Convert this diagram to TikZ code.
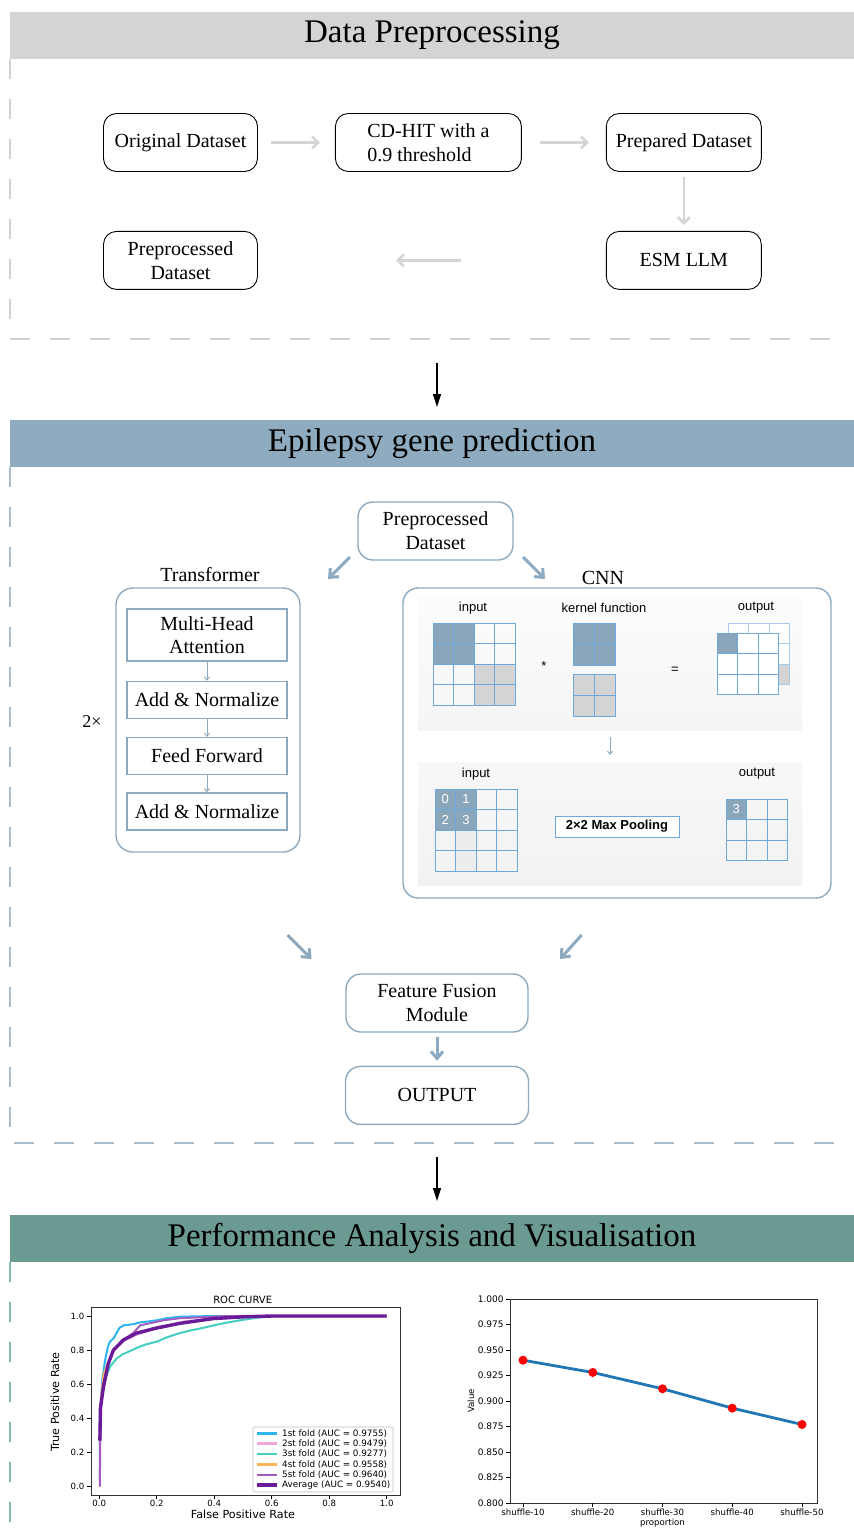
\documentclass[tikz,border=0pt]{standalone}
\usepackage{fontspec}
\setmainfont{Liberation Serif}
\setsansfont{Liberation Sans}
\newfontfamily\plotfont{DejaVu Sans}
\usetikzlibrary{shapes,arrows,arrows.meta,positioning}

\definecolor{headgray}{HTML}{D4D4D4}
\definecolor{headblue}{HTML}{8EABBF}
\definecolor{headteal}{HTML}{6A9A91}
\definecolor{dashgray}{HTML}{D2D2D2}
\definecolor{dashblue}{HTML}{A8BFD0}
\definecolor{dashteal}{HTML}{86BAB1}
\definecolor{lightarrow}{HTML}{D5D5D5}
\definecolor{boxblue}{HTML}{8DAAC0}
\definecolor{gridblue}{HTML}{6FA8DC}
\definecolor{celldark}{HTML}{8AA6BB}
\definecolor{cellgray}{HTML}{D4D4D4}
\definecolor{fold1}{HTML}{2EB5F0}
\definecolor{fold2}{HTML}{F0A8D8}
\definecolor{fold3}{HTML}{45CFC0}
\definecolor{fold4}{HTML}{FFB35A}
\definecolor{fold5}{HTML}{A35DBF}
\definecolor{foldavg}{HTML}{6A1B9A}
\definecolor{mplblue}{HTML}{1F77B4}

\begin{document}
\begin{tikzpicture}[x=1pt,y=-1pt]
   \tikzset{main node/.style={rectangle, draw, rounded corners=13pt, line width=0.9pt,
   		text centered, align=center, minimum height=58pt, font=\fontsize{20}{24}\selectfont}, }
   \tikzset{blue node/.style={main node, draw=boxblue, line width=1.4pt,
   		rounded corners=15pt}, }
   \tikzset{layer node/.style={rectangle, draw=boxblue, line width=1.3pt,
   		minimum width=160pt, text centered, align=center, font=\fontsize{20}{23}\selectfont}, }
   \tikzset{band node/.style={rectangle, minimum width=844pt, minimum height=47pt,
   		inner sep=0pt, font=\fontsize{33}{36}\selectfont}, }
   \tikzset{label node/.style={font=\fontsize{20}{23}\selectfont}, }
   \tikzset{cnn text/.style={font=\sffamily\fontsize{13}{15}\selectfont, inner sep=1pt}, }
   \tikzset{digit node/.style={font=\sffamily\fontsize{13}{15}\selectfont, text=white, inner sep=0pt}, }
   \tikzset{plot text/.style={font=\plotfont\fontsize{8.6}{10}\selectfont, inner sep=1pt}, }
   \tikzset{cell/.style={draw=gridblue, line width=1pt}, }
   \tikzset{linea gris/.style={-{Straight Barb[length=6pt,width=12pt]}, line width=2.6pt, draw=lightarrow},}
   \tikzset{linea azul/.style={-{Straight Barb[length=7pt,width=12pt]}, line width=3pt, draw=boxblue},}
   \tikzset{linea fina/.style={-{Straight Barb[length=3pt,width=5pt]}, line width=1pt, draw=boxblue},}
   \tikzset{linea negra/.style={-{Triangle[length=13pt,width=8pt]}, line width=1.2pt},}
   \tikzset{marco/.style={dash pattern=on 20pt off 20pt, line width=1.4pt},}

\useasboundingbox (0,0) rectangle (854,1540);
\fill[white] (0,0) rectangle (854,1540);

% Data Preprocessing
\node[band node, fill=headgray] (h1) at (432,35.5) {Data Preprocessing};
\draw[marco, dashgray] (10,59) -- (10,339) -- (840,339);
\node[main node, minimum width=154pt] (1) at (180.5,142.5) {Original Dataset};
\node[main node, minimum width=186pt, align=left] (2) [right=77pt of 1] {CD-HIT with a\\0.9 threshold};
\node[main node, minimum width=155pt] (3) [right=84pt of 2] {Prepared Dataset};
\node[main node, minimum width=155pt] (4) [below=59pt of 3] {ESM LLM};
\node[main node, minimum width=154pt] (5) [below=59pt of 1] {Preprocessed\\Dataset};
\path[linea gris] (1) edge[shorten <=13pt, shorten >=15pt] (2);
\path[linea gris] (2) edge[shorten <=18pt, shorten >=17pt] (3);
\path[linea gris] (3) edge[shorten <=5pt, shorten >=6pt] (4);
\path[linea gris] (4) edge[shorten <=145pt, shorten >=138pt] (5);

\coordinate (a1) at (437,363);
\coordinate (a2) at (437,407);
\draw[linea negra] (a1) -- (a2);

% Epilepsy gene prediction
\node[band node, fill=headblue] (h2) at (432,443.5) {Epilepsy gene prediction};
\draw[marco, dashblue] (10,467) -- (10,1143) -- (854,1143);
\node[blue node, minimum width=155pt] (6) at (435.5,531) {Preprocessed\\Dataset};
\coordinate (p1) at (350,557);
\coordinate (p2) at (328,579);
\coordinate (p3) at (523,557);
\coordinate (p4) at (545,579);
\draw[linea azul] (p1) -- (p2);
\draw[linea azul] (p3) -- (p4);

% transformer encoder
\node[label node] (7) at (210,575) {Transformer};
\node[blue node, minimum width=184pt, minimum height=264pt, rounded corners=17pt] (9) at (208,720) {};
\node[layer node, minimum height=52pt] (10) at (207,635) {Multi-Head\\Attention};
\node[layer node, minimum height=37pt] (11) [below=19pt of 10] {Add \& Normalize};
\node[layer node, minimum height=37pt] (12) [below=18pt of 11] {Feed Forward};
\node[layer node, minimum height=37pt] (13) [below=17pt of 12] {Add \& Normalize};
\foreach \x/\y in {10/11,11/12,12/13}
\path[linea fina] (\x) edge node {} (\y);
\node[font=\fontsize{18}{20}\selectfont] (14) at (92,722) {2×};

% convolution and pooling
\node[label node] (8) at (603,578) {CNN};
\node[blue node, minimum width=428pt, minimum height=310pt] (15) at (617,743) {};
\shade[top color=black!1, middle color=black!7, bottom color=black!4] (418,595) rectangle (802,730);
\shade[top color=black!3, middle color=black!8, bottom color=black!5] (418,762) rectangle (802,885);
\node[cnn text] (17) at (473,608) {input};
\node[cnn text] (18) at (604,608) {kernel function};
\node[cnn text] (19) at (756,608) {output};
\node[cnn text] (20) at (544,666) {*};
\node[cnn text] (21) at (675,670) {=};
\fill[celldark] (433,623) rectangle ++(41.2,41.2);
\fill[cellgray] (474.2,664.2) rectangle ++(41.2,41.2);
\foreach \i in {0,...,3} \foreach \j in {0,...,3}
  \draw[cell] (433+20.6*\i,623+20.6*\j) rectangle ++(20.6,20.6);
\foreach \i in {0,1} \foreach \j in {0,1} {
  \draw[cell, fill=celldark] (573+21*\i,623+21*\j) rectangle ++(21,21);
  \draw[cell, fill=cellgray] (573+21*\i,674+21*\j) rectangle ++(21,21);
}
\foreach \i in {0,...,2} \foreach \j in {0,...,2}
  \draw[cell, draw=gridblue!60, fill=white] (728+20.6*\i,623+20.6*\j) rectangle ++(20.6,20.6);
\draw[cell, draw=gridblue!60, fill=cellgray] (769.2,664.2) rectangle ++(20.6,20.6);
\foreach \i in {0,...,2} \foreach \j in {0,...,2}
  \draw[cell, fill=white] (717+20.6*\i,633+20.6*\j) rectangle ++(20.6,20.6);
\draw[cell, fill=celldark] (717,633) rectangle ++(20.6,20.6);
\coordinate (k1) at (610,737);
\coordinate (k2) at (610,755);
\draw[linea fina] (k1) -- (k2);
\node[cnn text] (22) at (476,774) {input};
\node[cnn text] (23) at (757,774) {output};
\fill[black!7] (455.6,830.2) rectangle ++(20.6,41.2);
\fill[celldark] (435,789) rectangle ++(41.2,41.2);
\foreach \i in {0,...,3} \foreach \j in {0,...,3}
  \draw[cell] (435+20.6*\i,789+20.6*\j) rectangle ++(20.6,20.6);
\foreach \n/\i/\j in {0/0/0,1/1/0,2/0/1,3/1/1}
  \node[digit node] (d\n) at (445.3+20.6*\i,799.3+20.6*\j) {\n};
\node[cnn text, draw=gridblue, line width=1pt, fill=white, minimum width=124pt, minimum height=21pt,
   inner sep=0pt, font=\sffamily\bfseries\fontsize{13}{15}\selectfont] (16) at (617,826.5) {2×2 Max Pooling};
\fill[celldark] (726,799) rectangle ++(20.6,20.6);
\foreach \i in {0,...,2} \foreach \j in {0,...,2}
  \draw[cell] (726+20.6*\i,799+20.6*\j) rectangle ++(20.6,20.6);
\node[digit node] (d4) at (736.3,809.3) {3};

% fusion and output
\coordinate (q1) at (287.6,935);
\coordinate (q2) at (311.5,959);
\coordinate (q3) at (581.7,935);
\coordinate (q4) at (560,959);
\draw[linea azul] (q1) -- (q2);
\draw[linea azul] (q3) -- (q4);
\node[blue node, minimum width=182pt] (24) at (437,1003) {Feature Fusion\\Module};
\node[blue node, minimum width=183pt] (25) [below=33pt of 24] {OUTPUT};
\path[linea azul] (24) edge[shorten <=4pt, shorten >=5pt] (25);

\coordinate (a3) at (437,1157);
\coordinate (a4) at (437,1201);
\draw[linea negra] (a3) -- (a4);

% Performance Analysis and Visualisation
\node[band node, fill=headteal] (h3) at (432,1238.5) {Performance Analysis and Visualisation};
\draw[marco, dashteal] (10,1262) -- (10,1545);

% ROC curves
\node[plot text, font=\plotfont\fontsize{10}{12}\selectfont] (rt) at (242.7,1300) {ROC CURVE};
\begin{scope}[shift={(99.3,1486.7)}, x=287.4pt, y=170.7pt, line join=round]
\foreach \t [count=\k] in {0.0,0.2,0.4,0.6,0.8,1.0} {
  \draw[line width=0.8pt] (\t,-0.0486) -- (\t,-0.07);
  \node[plot text] (rx\k) at (\t,-0.098) {\t};
  \draw[line width=0.8pt] (-0.0289,\t) -- (-0.0428,\t);
  \node[plot text, anchor=east] (ry\k) at (-0.048,\t) {\t};
}
\node[plot text, font=\plotfont\fontsize{11.2}{13}\selectfont] (rxl) at (0.5,-0.16) {False Positive Rate};
\node[plot text, font=\plotfont\fontsize{11.2}{13}\selectfont, rotate=90] (ryl) at (-0.154,0.496) {True Positive Rate};
\draw[fold1, line width=2pt] plot coordinates {(0.002,0.05) (0.002,0.41) (0.01,0.62) (0.02,0.74) (0.03,0.82) (0.037,0.85) (0.05,0.87) (0.06,0.9) (0.07,0.93) (0.084,0.945) (0.118,0.952) (0.14,0.962) (0.165,0.967) (0.2,0.975) (0.235,0.987) (0.28,0.996) (0.4,1) (1,1)};
\draw[fold2, line width=2pt] plot coordinates {(0.002,0) (0.003,0.4) (0.012,0.58) (0.03,0.72) (0.05,0.8) (0.084,0.855) (0.13,0.89) (0.2,0.93) (0.3,0.97) (0.45,0.99) (0.6,1) (1,1)};
\draw[fold3, line width=2pt] plot coordinates {(0.002,0.2) (0.004,0.45) (0.012,0.58) (0.026,0.66) (0.04,0.71) (0.06,0.75) (0.08,0.775) (0.107,0.795) (0.14,0.82) (0.165,0.835) (0.2,0.85) (0.235,0.875) (0.27,0.895) (0.316,0.915) (0.36,0.93) (0.397,0.945) (0.44,0.96) (0.49,0.975) (0.548,0.99) (0.62,1) (1,1)};
\draw[fold4, line width=2pt] plot coordinates {(0.002,0.3) (0.006,0.52) (0.015,0.66) (0.031,0.73) (0.05,0.8) (0.084,0.86) (0.13,0.9) (0.2,0.93) (0.28,0.957) (0.4,0.985) (0.6,1) (1,1)};
\draw[fold5, line width=2pt] plot coordinates {(0.002,0) (0.004,0.45) (0.014,0.6) (0.031,0.72) (0.05,0.8) (0.084,0.86) (0.118,0.9) (0.142,0.945) (0.223,0.975) (0.28,0.987) (0.45,1) (1,1)};
\draw[foldavg, line width=3.4pt] plot coordinates {(0.002,0.27) (0.004,0.46) (0.014,0.58) (0.031,0.72) (0.049,0.8) (0.084,0.86) (0.13,0.9) (0.2,0.93) (0.28,0.957) (0.397,0.985) (0.51,0.996) (0.6,1) (1,1)};
\end{scope}
\draw[line width=1pt, black!80] (91,1307) rectangle (400,1495);
\draw[fill=white, draw=black!25, line width=0.6pt, rounded corners=2pt] (253,1427) rectangle (393,1492);
\foreach \c/\w/\l [count=\k] in {fold1/2.6/{1st fold (AUC = 0.9755)},fold2/2.6/{2st fold (AUC = 0.9479)},
   fold3/2.6/{3st fold (AUC = 0.9277)},fold4/2.6/{4st fold (AUC = 0.9558)},
   fold5/2.6/{5st fold (AUC = 0.9640)},foldavg/4/{Average (AUC = 0.9540)}} {
  \draw[\c, line width=\w pt] (257,1422.9+10.4*\k) -- (277,1422.9+10.4*\k);
  \node[plot text, anchor=west, font=\plotfont\fontsize{8.8}{10}\selectfont] (lg\k) at (281,1422.9+10.4*\k) {\l};
}

% value per shuffle proportion
\draw[line width=1pt, black!80] (510,1299) rectangle (817,1503);
\begin{scope}[shift={(523,2319)}, x=69.75pt, y=1020pt]
\foreach \v [count=\k] in {0.800,0.825,0.850,0.875,0.900,0.925,0.950,0.975,1.000} {
  \draw[line width=0.8pt] (-0.186,\v) -- (-0.243,\v);
  \node[plot text, anchor=east, font=\plotfont\fontsize{9}{11}\selectfont] (vy\k) at (-0.26,\v) {\v};
}
\foreach \s [count=\k from 0] in {10,20,30,40,50} {
  \draw[line width=0.8pt] (\k,0.8) -- (\k,0.796);
  \node[plot text, font=\plotfont\fontsize{8.6}{10}\selectfont] (vx\k) at (\k,0.7912) {shuffle-\s};
}
\node[plot text, font=\plotfont\fontsize{8.6}{10}\selectfont] (vxl) at (2,0.7804) {proportion};
\node[plot text, font=\plotfont\fontsize{8.6}{10}\selectfont, rotate=90] (vyl) at (-0.746,0.9) {Value};
\draw[mplblue, line width=2.8pt, line join=round] plot coordinates {(0,0.940) (1,0.928) (2,0.912) (3,0.893) (4,0.877)};
\foreach \v [count=\k from 0] in {0.940,0.928,0.912,0.893,0.877}
  \fill[red] (\k,\v) circle (4.5pt);
\end{scope}
\end{tikzpicture}
\end{document}
